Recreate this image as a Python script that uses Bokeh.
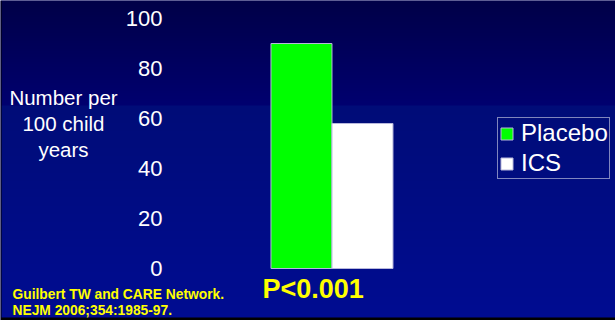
import numpy as np
from bokeh.plotting import figure
from bokeh.models import (Range1d, LinearAxis, FixedTicker, Legend, LegendItem,
                          Label, ColumnDataSource)
from bokeh.embed import file_html
from bokeh.resources import INLINE

# ---- data ----
series = ["Placebo", "ICS"]
values = [90, 58]
colors = ["#00FF00", "#FFFFFF"]
y_ticks = [0, 20, 40, 60, 80, 100]
y_title = "Number per\n100 child\nyears"
p_value = "P<0.001"
citation = ["Guilbert TW and CARE Network.", "NEJM 2006;354:1985-97."]

W, H = 615, 320
FONT = "Liberation Sans"

x_range = Range1d(-4.934, 5.148)
y_range = Range1d(-20.8, 107.2)

p = figure(width=W, height=H, x_range=x_range, y_range=y_range,
           output_backend="svg", toolbar_location=None,
           x_axis_type=None, y_axis_type=None, min_border=0)
p.outline_line_color = None
p.grid.visible = False
p.background_fill_color = "#000060"
p.border_fill_color = "#000060"

# ---- background gradient (style only) ----
t = np.arange(H, dtype=float)
r = np.zeros(H)
g = np.where(t < 105, 0, 12)
b = np.where(t < 105, 72 + (112 - 72) * t / 105, 120 + (146 - 120) * (t - 105) / (H - 105))
img = np.empty((H, W), dtype=np.uint32)
view = img.view(dtype=np.uint8).reshape((H, W, 4))
view[:, :, 0] = r[:, None]
view[:, :, 1] = g[:, None]
view[:, :, 2] = b[:, None]
view[:, :, 3] = 255
view[317:, :, :3] = 0
view[:, 0, :3] = 0
img = img[::-1].copy()
p.image_rgba(image=[img], x=x_range.start, y=y_range.start,
             dw=x_range.end - x_range.start, dh=y_range.end - y_range.start)

# ---- bars ----
src = ColumnDataSource(dict(x=list(range(len(series))), top=values,
                            color=colors, label=series))
bars = p.vbar(x="x", top="top", bottom=0, width=1, source=src,
              fill_color="color", line_color="#B8B8DC", line_width=1)

# ---- y axis inside frame ----
x_axis_pos = x_range.start + 165 * (x_range.end - x_range.start) / W
ax = LinearAxis(ticker=FixedTicker(ticks=y_ticks), fixed_location=x_axis_pos,
                axis_line_color=None, major_tick_line_color=None,
                minor_tick_line_color=None, major_tick_in=0, major_tick_out=0,
                major_label_standoff=3, major_label_text_color="white",
                major_label_text_font_size="22px", major_label_text_font=FONT)
p.add_layout(ax, "left")

# ---- legend ----
legend = Legend(items=[LegendItem(label=s, renderers=[bars], index=i)
                       for i, s in enumerate(series)],
                location=(497, 141), border_line_color="white",
                border_line_width=1, background_fill_alpha=0,
                label_text_color="white", label_text_font_size="24px",
                label_text_font=FONT, glyph_width=15, glyph_height=15,
                label_standoff=7, padding=1, spacing=2, margin=0)
p.add_layout(legend)

# ---- texts ----
p.add_layout(Label(x=63, y=197, x_units="screen", y_units="screen", text=y_title,
                   text_align="center", text_baseline="middle",
                   text_color="white", text_font_size="20.5px", text_font=FONT,
                   text_line_height=1.15))
p.add_layout(Label(x=262, y=32, x_units="screen", y_units="screen", text=p_value,
                   text_align="left", text_baseline="middle",
                   text_color="#FFFF00", text_font_size="27px",
                   text_font_style="bold", text_font=FONT))
for i, line in enumerate(citation):
    p.add_layout(Label(x=12, y=26 - 16 * i, x_units="screen", y_units="screen",
                       text=line, text_align="left", text_baseline="middle",
                       text_color="#FFFF00", text_font_size="13.8px",
                       text_font_style="bold", text_font=FONT))

open("out.html", "w").write(file_html(p, INLINE))
